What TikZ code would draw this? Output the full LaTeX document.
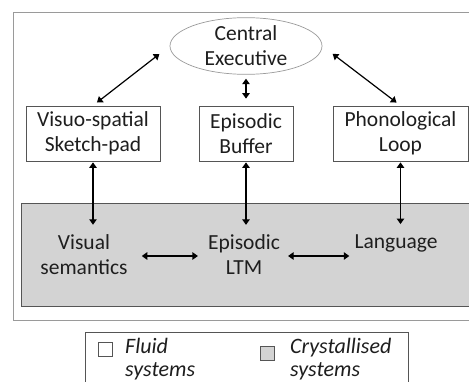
\documentclass[tikz,border=0pt]{standalone}
\usepackage{fontspec}
\setmainfont{Carlito}
\usepackage{tikz}
\usetikzlibrary{arrows.meta,positioning,calc,shapes.geometric}
\definecolor{cInk}{HTML}{1E1E1E}
\definecolor{cEdge}{HTML}{555555}
\definecolor{cFrame}{HTML}{9A9A9A}
\definecolor{cCryst}{HTML}{D3D3D3}
\tikzset{
  mbox/.style={draw=cEdge,fill=white,line width=0.8pt,align=center,font=\fontsize{21.5}{25}\selectfont,text=cInk,inner sep=0pt,minimum height=55pt},
  ltxt/.style={align=center,font=\fontsize{21.5}{25}\selectfont,text=cInk,inner xsep=2pt,inner ysep=10pt},
  darr/.style={{Triangle[length=5.5pt,width=7.5pt]}-{Triangle[length=5.5pt,width=7.5pt]},line width=1.2pt,color=black},
  key/.style={draw=cEdge,line width=0.6pt,minimum size=14pt,inner sep=0pt},
  keytxt/.style={align=left,font=\fontsize{22}{23}\selectfont\itshape,text=cInk,anchor=west,inner sep=2pt},
}
\begin{document}
\begin{tikzpicture}[x=1pt,y=1pt]
  \clip (0,0) rectangle (469,381);
  \fill[white] (0,0) rectangle (469,381);
  % frame and crystallised region
  \draw[cFrame,line width=0.8pt] (13,61) rectangle (480,369);
  \draw[cEdge,fill=cCryst,line width=0.8pt] (21,75) rectangle (480,178);
  % fluid systems
  \node[ellipse,draw=cFrame,line width=0.7pt,minimum width=152pt,minimum height=54pt,inner sep=0pt,align=center,font=\fontsize{21.5}{25}\selectfont,text=cInk] (ce) at (246,335) {Central\\Executive};
  \node[mbox,minimum width=134pt] (vs) at (93,247.5) {Visuo-spatial\\Sketch-pad};
  \node[mbox,minimum width=94pt] (eb) at (246,247.5) {Episodic\\Buffer};
  \node[mbox,minimum width=135pt] (pl) at (400.5,247.5) {Phonological\\Loop};
  % crystallised systems
  \node[ltxt] (vsem) at (84,126) {Visual\\semantics};
  \node[ltxt] (eltm) at (244,126) {Episodic\\LTM};
  \node[ltxt] (lang) at (396,138) {Language};
  % links
  \draw[darr,shorten <=5pt,shorten >=13pt] (vs.north) -- (ce.west);
  \draw[darr,shorten <=5pt,shorten >=13pt] (pl.north) -- (ce.east);
  \draw[darr,shorten <=4pt,shorten >=7pt] (ce.south) -- (eb.north);
  \draw[darr,shorten <=1pt] (vs.south) -- (vs.south |- vsem.north);
  \draw[darr,shorten <=1pt] (eb.south) -- (eb.south |- eltm.north);
  \draw[darr,shorten <=1pt] (pl.south) -- (pl.south |- lang.north);
  \draw[darr,shorten <=12pt,shorten >=8pt] (vsem.east |- 0,125) -- (eltm.west |- 0,125);
  \draw[darr,shorten <=6pt,shorten >=3pt] (eltm.east |- 0,125) -- (lang.west |- 0,125);
  % legend
  \draw[cEdge,line width=0.8pt] (85,-5) rectangle (408,49);
  \node[key,fill=white] (kfl) at (105.5,31.5) {};
  \node[key,fill=cCryst] (kcr) at (267.5,28) {};
  \node[keytxt] (tfl) at (123,21.5) {Fluid\\systems};
  \node[keytxt] (tcr) at (288,21.5) {Crystallised\\systems};
\end{tikzpicture}
\end{document}
